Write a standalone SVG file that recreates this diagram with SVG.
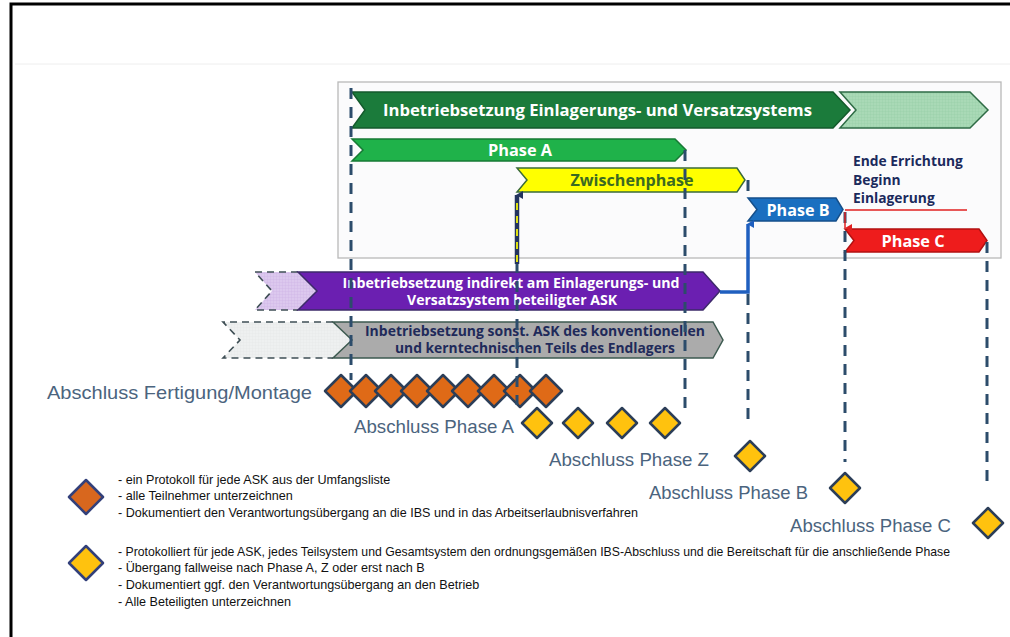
<svg xmlns="http://www.w3.org/2000/svg" width="1010" height="637" viewBox="0 0 1010 637">
<style>
.bar{font-family:"Open Sans","Liberation Sans",sans-serif;font-weight:700}
.lbl{font-family:"Liberation Sans",Arial,sans-serif;font-size:18.5px;fill:#4b647e}
.leg{font-family:"Liberation Sans",Arial,sans-serif;font-size:12.6px;fill:#111}
.dash{fill:none;stroke:#2c4c6b;stroke-width:3;stroke-dasharray:11 8}
.dg{fill:none;stroke:#3f4f55;stroke-width:1.6;stroke-dasharray:7 5}
.dO{fill:#df6a17;stroke:#2c3e58;stroke-width:2.5;stroke-linejoin:round}
.dY{fill:#ffc20e;stroke:#2c3e58;stroke-width:2.5;stroke-linejoin:round}
</style>
<defs>
<pattern id="hg" width="3" height="3" patternUnits="userSpaceOnUse"><rect width="3" height="3" fill="#a9d9b6"/><path d="M0,0H3M0,0V3" stroke="#93cba2" stroke-width="0.6"/></pattern>
<pattern id="hl" width="3" height="3" patternUnits="userSpaceOnUse"><rect width="3" height="3" fill="#dcc8ee"/><path d="M0,0H3M0,0V3" stroke="#cbb2e4" stroke-width="0.6"/></pattern>
<pattern id="hy" width="3" height="3" patternUnits="userSpaceOnUse"><rect width="3" height="3" fill="#eef0f0"/><path d="M0,0H3M0,0V3" stroke="#e2e5e5" stroke-width="0.6"/></pattern>
<path id="do" d="M0,-16 L16,0 L0,16 L-16,0 Z"/>
<path id="dy" d="M0,-15 L15,0 L0,15 L-15,0 Z"/>
<path id="dl" d="M0,-17 L17,0 L0,17 L-17,0 Z"/>
<marker id="ab" markerWidth="8" markerHeight="8" refX="4" refY="1" orient="auto-start-reverse" markerUnits="userSpaceOnUse"><path d="M0,7 L4,0 L8,7 Z" fill="#1f5fbf"/></marker>
<marker id="an" markerWidth="8" markerHeight="8" refX="4" refY="1" orient="auto-start-reverse" markerUnits="userSpaceOnUse"><path d="M0,7 L4,0 L8,7 Z" fill="#23345e"/></marker>
<marker id="ar" markerWidth="8" markerHeight="8" refX="4" refY="7" orient="auto" markerUnits="userSpaceOnUse"><path d="M0,0 L8,0 L4,7 Z" fill="#e02020"/></marker>
</defs>
<rect width="1010" height="637" fill="#ffffff"/>
<path d="M11,637 V4 H1010" fill="none" stroke="#000" stroke-width="3"/>
<path d="M15,64 H1010" stroke="#eeeeee" stroke-width="1"/>
<rect id="panel" x="338" y="82" width="663" height="176" fill="#fbfbfc" stroke="#b9b9b9" stroke-width="1.3"/>

<g id="title-bar">
<polygon points="352,92 833,92 850,110 833,128 352,128 365,110" fill="#1b7b3b" stroke="#145a2c" stroke-width="1.5"/>
<text class="bar" x="383" y="115.5" font-size="16.5" fill="#ffffff" textLength="429" lengthAdjust="spacingAndGlyphs">Inbetriebsetzung Einlagerungs- und Versatzsystems</text>
</g>
<g id="title-bar-continued">
<polygon points="840,92 970,92 988,110 970,128 840,128 856,110" fill="url(#hg)" stroke="#2e6b45" stroke-width="1.5"/>
</g>
<g id="phase-a">
<polygon points="352,139 675,139 686,150 675,161 352,161 363,150" fill="#1fb24a" stroke="#177a35" stroke-width="1.5"/>
<text class="bar" x="520" y="156" font-size="16" fill="#ffffff" text-anchor="middle" textLength="64" lengthAdjust="spacingAndGlyphs">Phase A</text>
</g>
<g id="zwischenphase">
<polygon points="517,168 737,168 745,180 737,192 517,192 527,180" fill="#ffff00" stroke="#3a6b3a" stroke-width="1.5"/>
<text class="bar" x="632" y="186" font-size="16" fill="#3b6a22" text-anchor="middle" textLength="123" lengthAdjust="spacingAndGlyphs">Zwischenphase</text>
</g>
<g id="phase-b">
<polygon points="748,198 836,198 843,209.5 836,221 748,221 757,209.5" fill="#1a6fc0" stroke="#154f8a" stroke-width="1.5"/>
<text class="bar" x="798" y="215.5" font-size="16" fill="#ffffff" text-anchor="middle" textLength="63" lengthAdjust="spacingAndGlyphs">Phase B</text>
</g>
<g id="phase-c">
<polygon points="845,229 979,229 987,240.5 979,252 845,252 854,240.5" fill="#ee1c1c" stroke="#b31010" stroke-width="1.5"/>
<text class="bar" x="913" y="246.5" font-size="16" fill="#ffffff" text-anchor="middle" textLength="63" lengthAdjust="spacingAndGlyphs">Phase C</text>
</g>
<g id="ende-errichtung">
<text class="bar" font-size="13.8" fill="#1b2a5c"><tspan x="853" y="166">Ende Errichtung</tspan><tspan x="853" y="185">Beginn</tspan><tspan x="853" y="203">Einlagerung</tspan></text>
</g>
<g id="indirekt-ask">
<polygon points="255,272 298,272 317,291 298,310 255,310 272,291" fill="url(#hl)"/>
<path class="dg" d="M298,272 H255 L272,291 L255,310 H298"/>
<polygon points="298,272 703,272 720,291 703,310 298,310 317,291" fill="#6b1fb1" stroke="#3d2a6a" stroke-width="1.5"/>
<text class="bar" font-size="14" fill="#ffffff" text-anchor="middle"><tspan x="511" y="288" textLength="337" lengthAdjust="spacingAndGlyphs">Inbetriebsetzung indirekt am Einlagerungs- und</tspan></text>
<text class="bar" font-size="14" fill="#ffffff" text-anchor="middle"><tspan x="512" y="305" textLength="210" lengthAdjust="spacingAndGlyphs">Versatzsystem beteiligter ASK</tspan></text>
</g>
<g id="sonstige-ask">
<polygon points="223,322 333,322 352,340 333,358 223,358 240,340" fill="url(#hy)"/>
<path class="dg" d="M333,322 H223 L240,340 L223,358 H333"/>
<polygon points="333,322 713,322 723,340 713,358 333,358 352,340" fill="#ababab" stroke="#3d5a50" stroke-width="1.5"/>
<text class="bar" font-size="14" fill="#1f2a5a" text-anchor="middle"><tspan x="535" y="336" textLength="340" lengthAdjust="spacingAndGlyphs">Inbetriebsetzung sonst. ASK des konventionellen</tspan></text>
<text class="bar" font-size="14" fill="#1f2a5a" text-anchor="middle"><tspan x="535" y="353" textLength="280" lengthAdjust="spacingAndGlyphs">und kerntechnischen Teils des Endlagers</tspan></text>
</g>

<g id="connectors">
<path class="dash" d="M351,88 V380"/>
<path class="dash" d="M685,150 V410"/>
<path class="dash" d="M748,180 V198"/>
<path class="dash" d="M748,294 V423"/>
<path class="dash" d="M845,212 V462"/>
<path class="dash" d="M987,242 V487"/>
<path d="M720,292 H748 V224" fill="none" stroke="#1f5fbf" stroke-width="3.5" marker-end="url(#ab)"/>
<path d="M845,210 H967" stroke="#e02020" stroke-width="1.6"/>
<path d="M845,212 V228" stroke="#e02020" stroke-width="1.5" marker-end="url(#ar)"/>
</g>

<g id="abschluss-fertigung">
<use href="#do" class="dO" x="341" y="391"/>
<use href="#do" class="dO" x="366" y="391"/>
<use href="#do" class="dO" x="391" y="391"/>
<use href="#do" class="dO" x="417" y="391"/>
<use href="#do" class="dO" x="443" y="391"/>
<use href="#do" class="dO" x="468" y="391"/>
<use href="#do" class="dO" x="494" y="391"/>
<use href="#do" class="dO" x="520" y="391"/>
<use href="#do" class="dO" x="546" y="391"/>
<text class="lbl" x="47" y="399" textLength="265" lengthAdjust="spacingAndGlyphs">Abschluss Fertigung/Montage</text>
</g>
<g id="zwischen-arrow">
<path class="dash" d="M517,262 V405" stroke="#23345e"/>
<path d="M517,264 V195" stroke="#23345e" stroke-width="4.5" marker-end="url(#an)"/>
<path d="M517,262 V197" stroke="#f2f20a" stroke-width="1.8" stroke-dasharray="7 6"/>
</g>
<g id="abschluss-phase-a">
<use href="#dy" class="dY" x="537" y="423"/>
<use href="#dy" class="dY" x="578" y="423"/>
<use href="#dy" class="dY" x="622" y="423"/>
<use href="#dy" class="dY" x="665" y="423"/>
<text class="lbl" x="354" y="433" textLength="160" lengthAdjust="spacingAndGlyphs">Abschluss Phase A</text>
</g>
<g id="abschluss-phase-z">
<use href="#dy" class="dY" x="750" y="456"/>
<text class="lbl" x="549" y="466" textLength="160" lengthAdjust="spacingAndGlyphs">Abschluss Phase Z</text>
</g>
<g id="abschluss-phase-b">
<use href="#dy" class="dY" x="845" y="488"/>
<text class="lbl" x="649" y="499" textLength="159" lengthAdjust="spacingAndGlyphs">Abschluss Phase B</text>
</g>
<g id="abschluss-phase-c">
<use href="#dy" class="dY" x="988" y="523"/>
<text class="lbl" x="790" y="532" textLength="161" lengthAdjust="spacingAndGlyphs">Abschluss Phase C</text>
</g>

<g id="legend-orange">
<use href="#dl" x="86" y="497" fill="#d8671e" stroke="#33407a" stroke-width="2.5" stroke-linejoin="round"/>
<text class="leg"><tspan x="118" y="484">- ein Protokoll für jede ASK aus der Umfangsliste</tspan><tspan x="118" y="500">- alle Teilnehmer unterzeichnen</tspan></text>
<text class="leg" x="118" y="517" textLength="520" lengthAdjust="spacingAndGlyphs">- Dokumentiert den Verantwortungsübergang an die IBS und in das Arbeitserlaubnisverfahren</text>
</g>
<g id="legend-yellow">
<use href="#dl" x="86" y="563" fill="#ffc20e" stroke="#33407a" stroke-width="2.5" stroke-linejoin="round"/>
<text class="leg" x="118" y="556" textLength="832" lengthAdjust="spacingAndGlyphs">- Protokolliert für jede ASK, jedes Teilsystem und Gesamtsystem den ordnungsgemäßen IBS-Abschluss und die Bereitschaft für die anschließende Phase</text>
<text class="leg"><tspan x="118" y="572">- Übergang fallweise nach Phase A, Z oder erst nach B</tspan><tspan x="118" y="589">- Dokumentiert ggf. den Verantwortungsübergang an den Betrieb</tspan><tspan x="118" y="606">- Alle Beteiligten unterzeichnen</tspan></text>
</g>
</svg>
